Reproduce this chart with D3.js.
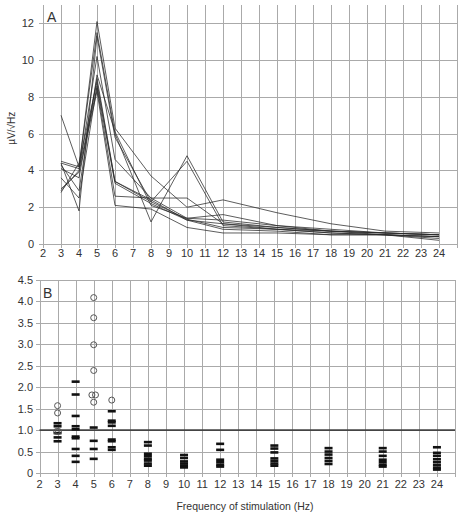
<!DOCTYPE html>
<html>
<head>
<meta charset="utf-8">
<script src="https://cdn.jsdelivr.net/npm/d3@7"></script>
<style>
  body { margin: 0; background: #fff; }
  text { font-family: "Liberation Sans", Arial, sans-serif; fill: #333; }
</style>
</head>
<body>
<div id="chart"></div>
<script>
// Panel A: amplitude per stimulation frequency, one line per subject
const freqsA = [3, 4, 5, 6, 8, 10, 12, 15, 18, 21, 24];
const seriesA = [
  [7.0, 4.2, 12.1, 6.3, 3.7, 2.0, 2.4, 1.7, 1.1, 0.7, 0.6],
  [4.5, 4.2, 11.5, 6.0, 1.2, 4.8, 1.2, 0.9, 0.7, 0.6, 0.5],
  [4.4, 1.8, 11.3, 5.8, 2.3, 4.5, 1.0, 0.8, 0.6, 0.5, 0.4],
  [2.9, 4.0, 10.2, 4.6, 2.5, 1.4, 1.6, 1.0, 0.8, 0.6, 0.5],
  [4.1, 3.6, 9.0, 3.4, 2.4, 1.3, 1.1, 0.9, 0.7, 0.6, 0.5],
  [2.8, 4.4, 8.8, 3.4, 2.3, 1.35, 0.9, 0.8, 0.6, 0.5, 0.4],
  [3.6, 2.5, 8.6, 3.3, 2.2, 1.3, 0.8, 0.7, 0.5, 0.5, 0.3],
  [4.4, 4.1, 8.5, 2.6, 2.5, 2.5, 1.1, 0.8, 0.7, 0.5, 0.4],
  [3.0, 3.9, 8.3, 2.1, 1.9, 0.9, 0.6, 0.6, 0.5, 0.5, 0.2],
  [4.3, 2.9, 9.2, 6.1, 2.1, 1.4, 1.3, 1.0, 0.7, 0.6, 0.5]
];

// Panel B: ratios, dashes and open circles
const dashX = [3,3,3,3,3, 4,4,4,4,4,4,4,4,4,4, 5,5,5,5, 6,6,6,6,6,6,6,6,
  8,8,8,8,8,8,8,8, 10,10,10,10,10,10, 12,12,12,12,12,12,
  15,15,15,15,15,15,15, 18,18,18,18,18,18, 21,21,21,21,21,21,21, 24,24,24,24,24,24,24,24];
const dashY = [1.16,1.09,0.93,0.83,0.74, 2.13,1.83,1.33,1.09,1.02,0.85,0.81,0.56,0.40,0.26,
  1.06,0.75,0.56,0.33, 1.44,1.22,1.18,1.10,0.78,0.74,0.60,0.54,
  0.72,0.64,0.45,0.39,0.33,0.29,0.22,0.17, 0.42,0.35,0.27,0.22,0.17,0.13,
  0.68,0.54,0.31,0.25,0.19,0.15,
  0.64,0.57,0.48,0.34,0.28,0.22,0.17, 0.58,0.50,0.43,0.35,0.28,0.21,
  0.58,0.50,0.40,0.31,0.25,0.19,0.15, 0.60,0.47,0.40,0.32,0.25,0.18,0.12,0.08];
const circleX = [3, 3, 2.95, 3.05, 5, 5, 5, 5, 4.9, 5.1, 5, 6];
const circleY = [1.57, 1.40, 0.97, 0.97, 4.09, 3.62, 2.99, 2.39, 1.82, 1.82, 1.65, 1.70];

const ticksX = d3.range(2, 25);
const ticksYA = [0, 2, 4, 6, 8, 10, 12];
const ticksYB = [0, 0.5, 1, 1.5, 2, 2.5, 3, 3.5, 4, 4.5];
const refLine = 1.0;

const W = 464, H = 512;
const svg = d3.select("#chart").append("svg")
  .attr("width", W).attr("height", H);

const gridColor = "#aaaaaa";
const px = v => Math.round(v) + 0.5; // snap grid to pixel

function drawGrid(g, x, y, yTicks, yTop) {
  g.append("g").selectAll("line").data(d3.range(2, 26)).join("line")
    .attr("x1", d => px(x(d))).attr("x2", d => px(x(d)))
    .attr("y1", Math.round(y(yTop))).attr("y2", Math.round(y(0)) + 4)
    .style("stroke", gridColor).style("stroke-width", "1px");
  g.append("g").selectAll("line").data(yTicks).join("line")
    .attr("x1", Math.round(x(2)) - 4).attr("x2", Math.round(x(25)) + 1)
    .attr("y1", d => px(y(d))).attr("y2", d => px(y(d)))
    .style("stroke", gridColor).style("stroke-width", "1px");
}

// ---------- Panel A ----------
const xA = d3.scaleLinear().domain([2, 25]).range([43, 457]);
const yA = d3.scaleLinear().domain([0, 13]).range([244, 5]);

const gA = svg.append("g");
drawGrid(gA, xA, yA, ticksYA, 13);

const lineA = d3.line().x((d, i) => xA(freqsA[i])).y(d => yA(d));
gA.append("g").selectAll("path").data(seriesA).join("path")
  .attr("d", lineA)
  .attr("fill", "none")
  .attr("stroke", "#2a2a2a")
  .attr("stroke-opacity", 0.85)
  .attr("stroke-width", 0.9);

gA.append("g").selectAll("text").data(ticksX).join("text")
  .attr("x", d => xA(d)).attr("y", 257)
  .attr("text-anchor", "middle").style("font-size", "11px")
  .text(d => d);
gA.append("g").selectAll("text").data(ticksYA).join("text")
  .attr("x", 34).attr("y", d => yA(d) + 4)
  .attr("text-anchor", "end").style("font-size", "11px")
  .text(d => d);
gA.append("text")
  .attr("transform", `translate(15,${yA(6.3)}) rotate(-90)`)
  .attr("text-anchor", "middle").style("font-size", "10px")
  .text("µV/√Hz");
gA.append("text").attr("x", 47).attr("y", 22)
  .style("font-size", "14px").text("A");

// ---------- Panel B ----------
const xB = d3.scaleLinear().domain([2, 25]).range([39.5, 455]);
const yB = d3.scaleLinear().domain([0, 4.5]).range([473, 280]);

const gB = svg.append("g");
drawGrid(gB, xB, yB, ticksYB, 4.5);

gB.append("line")
  .attr("x1", xB(2)).attr("x2", xB(25))
  .attr("y1", yB(refLine)).attr("y2", yB(refLine))
  .attr("stroke", "#444").attr("stroke-width", 1.6);

gB.append("g").selectAll("rect").data(dashY).join("rect")
  .attr("x", (d, i) => xB(dashX[i]) - 4)
  .attr("y", d => yB(d) - 1.3)
  .attr("width", 8).attr("height", 2.6)
  .attr("fill", "#111");

gB.append("g").selectAll("circle").data(circleY).join("circle")
  .attr("cx", (d, i) => xB(circleX[i]))
  .attr("cy", d => yB(d))
  .attr("r", 3)
  .attr("fill", "none")
  .attr("stroke", "#555").attr("stroke-width", 1);

gB.append("g").selectAll("text").data(ticksX).join("text")
  .attr("x", d => xB(d)).attr("y", 488)
  .attr("text-anchor", "middle").style("font-size", "11px")
  .text(d => d);
gB.append("g").selectAll("text").data(ticksYB).join("text")
  .attr("x", 33).attr("y", d => yB(d) + 4)
  .attr("text-anchor", "end").style("font-size", "11px")
  .text(d => d === 0 ? "0" : d.toFixed(1));
gB.append("text").attr("x", 43).attr("y", 298)
  .style("font-size", "14px").text("B");

svg.append("text")
  .attr("x", 245).attr("y", 510)
  .attr("text-anchor", "middle").style("font-size", "10.5px")
  .text("Frequency of stimulation (Hz)");
</script>
</body>
</html>
